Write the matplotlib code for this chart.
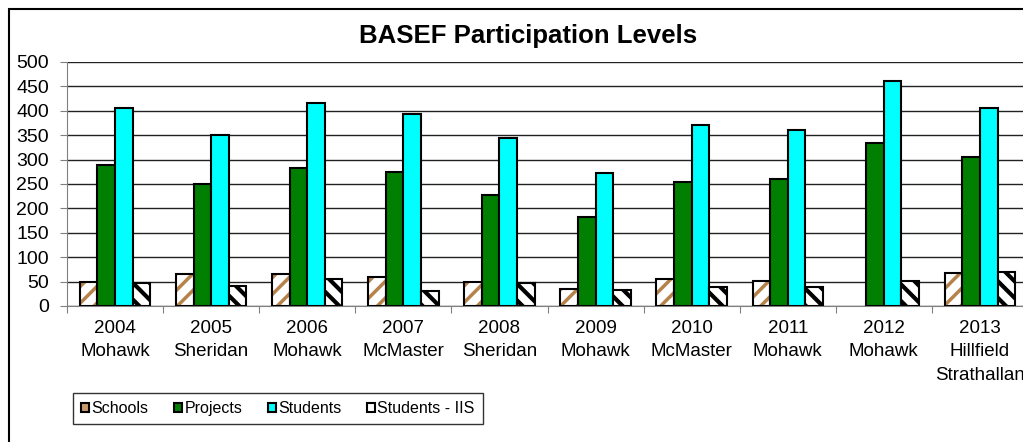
import numpy as np
import matplotlib.pyplot as plt
from matplotlib.patches import Patch, Rectangle

plt.rcParams['font.family'] = ['Liberation Sans', 'DejaVu Sans']

years = ['2004', '2005', '2006', '2007', '2008', '2009', '2010', '2011', '2012', '2013']
hosts = ['Mohawk', 'Sheridan', 'Mohawk', 'McMaster', 'Sheridan', 'Mohawk',
         'McMaster', 'Mohawk', 'Mohawk', 'Hillfield\nStrathallan']
schools = [50, 65, 65, 60, 50, 35, 55, 52, 0, 68]
projects = [288, 249, 282, 275, 227, 183, 254, 261, 334, 305]
students = [405, 351, 417, 394, 344, 272, 370, 361, 462, 405]
students_iis = [47, 40, 55, 30, 47, 32, 39, 39, 52, 70]

brown = '#b5834a'
green = '#007f00'
cyan = '#00ffff'

fig = plt.figure(figsize=(10.23, 4.42), dpi=100)
ax = fig.add_axes([67 / 1023, 136 / 442, 961 / 1023, 244 / 442])

x = np.arange(len(years))
w = 0.183
offs = [-1.5 * w, -0.5 * w, 0.5 * w, 1.5 * w]

# schools: brown hatch, then black outline on top
b1 = ax.bar(x + offs[0], schools, w, color='white', edgecolor=brown, hatch='//', lw=0, zorder=3)
ax.bar(x + offs[0], [s if s > 0 else np.nan for s in schools], w, fill=False, edgecolor='black', lw=1.5, zorder=4)
ax.bar(x + offs[1], projects, w, color=green, edgecolor='black', lw=1.5, zorder=3)
ax.bar(x + offs[2], students, w, color=cyan, edgecolor='black', lw=1.5, zorder=3)
b4 = ax.bar(x + offs[3], students_iis, w, color='white', edgecolor='black', hatch='\\\\', lw=1.5, zorder=3)
for p in b1:
    p.set_hatch_linewidth(2.5)
for p in b4:
    p.set_hatch_linewidth(3.0)

ax.set_xlim(-0.5, len(years) - 0.5)
ax.set_ylim(0, 500)
ax.set_yticks(range(0, 501, 50))
ax.yaxis.grid(True, color='#222222', lw=1)
ax.set_axisbelow(True)
ax.tick_params(axis='y', length=5, color='#808080', pad=8, labelsize=14)

ax.set_xticks(np.arange(len(years) + 1) - 0.5)
ax.set_xticklabels([])
ax.set_xticks(x, [y + '\n' + h for y, h in zip(years, hosts)], minor=True)
ax.tick_params(axis='x', which='major', length=5, color='#808080')
ax.tick_params(axis='x', which='minor', length=0, pad=10, labelsize=13.5)
for t in ax.get_xticklabels(minor=True):
    t.set_linespacing(1.5)

for s in ['top', 'right']:
    ax.spines[s].set_visible(False)
ax.spines['left'].set_color('#808080')
ax.spines['bottom'].set_color('#808080')

fig.text(0.516, 0.918, 'BASEF Participation Levels', ha='center', va='center',
         fontsize=18.5, fontweight='bold')

handles = [
    Patch(facecolor='#c89a6a', edgecolor='black', lw=1.5),
    Patch(facecolor=green, edgecolor='black', lw=1.5),
    Patch(facecolor=cyan, edgecolor='black', lw=1.5),
    Patch(facecolor='white', edgecolor='black', lw=1.5),
]
leg = fig.legend(handles, ['Schools', 'Projects', 'Students', 'Students - IIS'],
                 loc='lower left', bbox_to_anchor=(73 / 1023, 18 / 442),
                 bbox_transform=fig.transFigure, ncol=4, fontsize=11.5,
                 handlelength=0.5, handleheight=0.5, handletextpad=0.15,
                 columnspacing=1.6, fancybox=False, borderaxespad=0,
                 borderpad=0.5)
leg.get_frame().set_edgecolor('black')
leg.get_frame().set_linewidth(1)

fig.add_artist(Rectangle((9 / 1023, -0.1), 1.2, 1.1 - 9 / 442, transform=fig.transFigure,
                         fill=False, edgecolor='black', lw=1.5))

fig.savefig('out.png', dpi=100)
